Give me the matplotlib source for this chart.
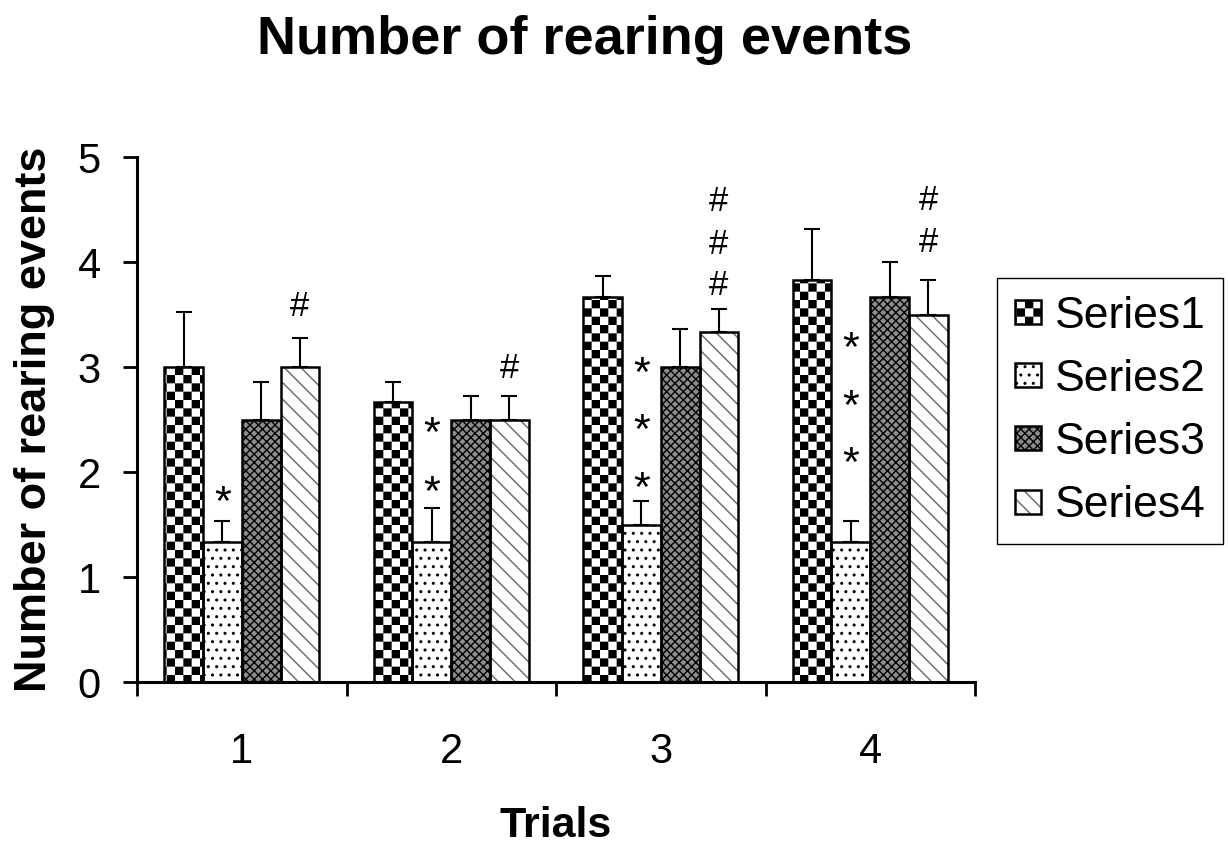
import warnings
import numpy as np
import matplotlib
matplotlib.use('Agg')
import matplotlib.pyplot as plt
import matplotlib.hatch as mhatch
from matplotlib.path import Path

warnings.filterwarnings('ignore')

trials = ['1', '2', '3', '4']
series_names = ['Series1', 'Series2', 'Series3', 'Series4']
series1 = [3.0, 2.67, 3.67, 3.83]
series2 = [1.33, 1.33, 1.5, 1.33]
series3 = [2.5, 2.5, 3.0, 3.67]
series4 = [3.0, 2.5, 3.33, 3.5]
err1 = [0.52, 0.19, 0.20, 0.48]
err2 = [0.20, 0.33, 0.22, 0.20]
err3 = [0.36, 0.22, 0.36, 0.33]
err4 = [0.28, 0.22, 0.22, 0.33]

# significance marks: (trial index, series index, symbol, glyph centre in data units)
marks = [
    (0, 1, '*', 1.82), (0, 3, '#', 3.60),
    (1, 1, '*', 2.47), (1, 1, '*', 1.91), (1, 3, '#', 3.01),
    (2, 1, '*', 3.04), (2, 1, '*', 2.50), (2, 1, '*', 1.95),
    (2, 3, '#', 4.60), (2, 3, '#', 4.19), (2, 3, '#', 3.80),
    (3, 1, '*', 3.28), (3, 1, '*', 2.73), (3, 1, '*', 2.19),
    (3, 3, '#', 4.61), (3, 3, '#', 4.21),
]


# checkerboard hatch (letter 'c'), matplotlib has none built in
class CheckerHatch(mhatch.HatchPatternBase):
    def __init__(self, hatch, density):
        self.n = hatch.count('c') * density
        self.num_vertices = (self.n * self.n // 2) * 5 if self.n else 0

    def set_vertices_and_codes(self, vertices, codes):
        step = 1.0 / self.n
        m = 0.007
        k = 0
        for i in range(self.n):
            for j in range(self.n):
                if (i + j) % 2 == 0:
                    x0, y0 = i * step + m, j * step + m
                    x1, y1 = (i + 1) * step - m, (j + 1) * step - m
                    vertices[k:k + 5] = [[x0, y0], [x1, y0], [x1, y1], [x0, y1], [x0, y0]]
                    codes[k:k + 5] = [Path.MOVETO, Path.LINETO, Path.LINETO,
                                      Path.LINETO, Path.CLOSEPOLY]
                    k += 5


mhatch._hatch_types.append(CheckerHatch)
mhatch._validate_hatch_pattern = lambda hatch: None

plt.rcParams['font.family'] = ['Liberation Sans', 'DejaVu Sans']
plt.rcParams['hatch.linewidth'] = 1.0

fig = plt.figure(figsize=(12.28, 8.46), dpi=100)
ax = fig.add_axes([137 / 1228, 1 - 682 / 846, 838 / 1228, 525 / 846])

x = np.arange(1, len(trials) + 1)
w = 0.185
values = [series1, series2, series3, series4]
errors = [err1, err2, err3, err4]
styles = [
    dict(facecolor='white', hatch='cc', hatch_edge='black'),
    dict(facecolor='white', hatch='..', hatch_edge='black'),
    dict(facecolor='#8c8c8c', hatch='xxxx', hatch_edge='black'),
    dict(facecolor='white', hatch='\\\\', hatch_edge='#666666'),
]

handles = []
for i, (vals, errs, st) in enumerate(zip(values, errors, styles)):
    pos = x + (i - 1.5) * w
    fill = ax.bar(pos, vals, w, color=st['facecolor'], edgecolor=st['hatch_edge'],
                  linewidth=0, hatch=st['hatch'], zorder=2)
    edge = ax.bar(pos, vals, w, fill=False, edgecolor='black', linewidth=1.8, zorder=3)
    ax.errorbar(pos, vals, yerr=[np.zeros(len(errs)), errs], fmt='none',
                ecolor='black', elinewidth=1.5, capsize=6, capthick=1.5, zorder=1)
    handles.append((fill, edge))

for g, s, sym, yc in marks:
    xc = x[g] + (s - 1.5) * w
    if sym == '*':
        ax.annotate(sym, xy=(xc, yc), xytext=(0, -17), textcoords='offset points',
                    ha='center', va='baseline', fontsize=31)
    else:
        ax.annotate(sym, xy=(xc, yc), xytext=(0, -8.6), textcoords='offset points',
                    ha='center', va='baseline', fontsize=25)

ax.set_xlim(0.5, 4.5)
ax.set_ylim(0, 5)
ax.set_yticks(range(6))
ax.set_xticks(x)
ax.set_xticklabels(trials)
ax.set_xticks(np.arange(0.5, 4.6, 1), minor=True)
ax.tick_params(axis='x', which='major', length=0, pad=36, labelsize=30)
ax.tick_params(axis='x', which='minor', length=10, width=2, direction='out')
ax.tick_params(axis='y', length=10, width=2, pad=16, labelsize=30)
for side in ['top', 'right']:
    ax.spines[side].set_visible(False)
for side in ['left', 'bottom']:
    ax.spines[side].set_linewidth(2.2)

ax.set_ylabel('Number of rearing events', fontsize=32.5, fontweight='bold', va='baseline')
ax.yaxis.set_label_coords((46 - 137) / 838, 0.5)
ax.set_xlabel('Trials', fontsize=31, fontweight='bold', va='baseline')
ax.xaxis.set_label_coords(0.5, (682 - 837) / 525)

fig.text(585 / 1228, 1 - 54 / 846, 'Number of rearing events', ha='center', va='baseline',
         fontsize=39, fontweight='bold')

leg = ax.legend(handles, series_names, loc='upper left',
                bbox_to_anchor=(997 / 1228, 1 - 278 / 846), bbox_transform=fig.transFigure,
                borderaxespad=0, fontsize=32, fancybox=False, framealpha=1,
                edgecolor='black', handlelength=0.6, handleheight=0.45,
                handletextpad=0.3, labelspacing=0.5, borderpad=0.4)
leg.get_frame().set_linewidth(1.0)

fig.savefig('out.png', dpi=100)
